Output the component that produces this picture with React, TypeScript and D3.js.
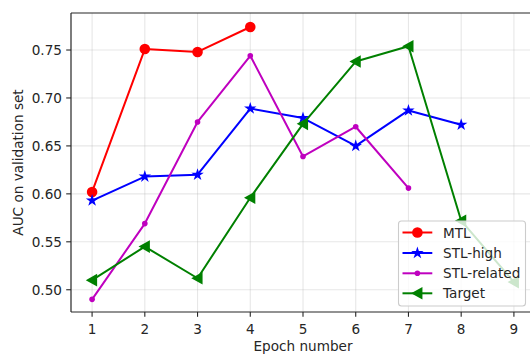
import React from "react";
import * as d3 from "d3";

const epochs = [1, 2, 3, 4, 5, 6, 7, 8, 9];
const mtl = [0.602, 0.751, 0.748, 0.774];
const stlHigh = [0.593, 0.618, 0.620, 0.689, 0.679, 0.650, 0.687, 0.672];
const stlRelated = [0.490, 0.569, 0.675, 0.744, 0.639, 0.670, 0.606];
const target = [0.510, 0.545, 0.512, 0.596, 0.673, 0.738, 0.754, 0.572, 0.508];
const xTicks = [1, 2, 3, 4, 5, 6, 7, 8, 9];
const yTicks = [0.5, 0.55, 0.6, 0.65, 0.7, 0.75];
const seriesNames = ["MTL", "STL-high", "STL-related", "Target"];
const seriesColors = ["#ff0000", "#0000ff", "#bf00bf", "#008000"];
const seriesMarkers = ["circle", "star", "dot", "tri"];

const W = 530, H = 355;
const L = 71, R = 535, T = 13, B = 312;
const FONT = "DejaVu Sans, sans-serif";
const FS = 13.6;

function Marker({ kind, x, y, color }: { kind: string; x: number; y: number; color: string }) {
  if (kind === "circle") return <circle cx={x} cy={y} r={5.3} fill={color} />;
  if (kind === "dot") return <circle cx={x} cy={y} r={2.8} fill={color} />;
  if (kind === "star") {
    const p = d3.symbol().type(d3.symbolStar).size(48)();
    return <path d={p || ""} transform={`translate(${x},${y})`} fill={color} />;
  }
  // left-pointing triangle
  const s = 6.3;
  const d = `M${x - s},${y} L${x + s * 0.8},${y - s} L${x + s * 0.8},${y + s} Z`;
  return <path d={d} fill={color} />;
}

export default function App() {
  const x = d3.scaleLinear().domain([0.6, 9.4]).range([L, R]);
  const y = d3.scaleLinear().domain([0.4768, 0.7886]).range([B, T]);
  const data = [mtl, stlHigh, stlRelated, target];
  const line = d3
    .line<number>()
    .x((_, i) => x(epochs[i]))
    .y((d) => y(d));
  const lx = 398.5, ly = 221, lw = 127, lh = 85;
  const legendY = [232.5, 253, 273.3, 293.3];
  return (
    <svg width={W} height={H} style={{ position: "absolute", left: 0, top: 0, background: "#fff" }}>
      <g>
        {xTicks.map((t) => (
          <line key={"gx" + t} x1={x(t)} x2={x(t)} y1={T} y2={B} stroke="#b0b0b0" strokeOpacity={0.3} strokeWidth={1.1} />
        ))}
        {yTicks.map((t) => (
          <line key={"gy" + t} x1={L} x2={R} y1={y(t)} y2={y(t)} stroke="#b0b0b0" strokeOpacity={0.3} strokeWidth={1.1} />
        ))}
      </g>
      {data.map((vals, si) => (
        <g key={si}>
          <path d={line(vals) || ""} fill="none" stroke={seriesColors[si]} strokeWidth={2} strokeLinejoin="round" />
          {vals.map((v, i) => (
            <Marker key={i} kind={seriesMarkers[si]} x={x(epochs[i])} y={y(v)} color={seriesColors[si]} />
          ))}
        </g>
      ))}
      {/* spines */}
      <line x1={L} x2={L} y1={T} y2={B} stroke="#262626" strokeWidth={1.2} />
      <line x1={L} x2={R} y1={B} y2={B} stroke="#262626" strokeWidth={1.2} />
      <line x1={L} x2={R} y1={T} y2={T} stroke="#262626" strokeWidth={1.2} />
      {xTicks.map((t) => (
        <g key={"xt" + t}>
          <line x1={x(t)} x2={x(t)} y1={B} y2={B + 4.8} stroke="#262626" strokeWidth={1.1} />
          <text x={x(t)} y={B + 22} textAnchor="middle" fontFamily={FONT} fontSize={FS} fill="#262626">
            {t}
          </text>
        </g>
      ))}
      {yTicks.map((t) => (
        <g key={"yt" + t}>
          <line x1={L - 4.8} x2={L} y1={y(t)} y2={y(t)} stroke="#262626" strokeWidth={1.1} />
          <text x={L - 9} y={y(t) + 5} textAnchor="end" fontFamily={FONT} fontSize={FS} fill="#262626">
            {d3.format(".2f")(t)}
          </text>
        </g>
      ))}
      <text x={(L + R) / 2} y={350.5} textAnchor="middle" fontFamily={FONT} fontSize={FS} fill="#262626">
        Epoch number
      </text>
      <text
        transform={`translate(22.7,${(T + B) / 2}) rotate(-90)`}
        textAnchor="middle"
        fontFamily={FONT}
        fontSize={FS}
        fill="#262626"
      >
        AUC on validation set
      </text>
      <g>
        <rect x={lx} y={ly} width={lw} height={lh} rx={3} fill="#fff" fillOpacity={0.8} stroke="#cccccc" strokeWidth={1.1} />
        {seriesNames.map((n, i) => {
          const yy = legendY[i];
          return (
            <g key={n}>
              <line x1={402.5} x2={432.3} y1={yy} y2={yy} stroke={seriesColors[i]} strokeWidth={2} />
              <Marker kind={seriesMarkers[i]} x={417.4} y={yy} color={seriesColors[i]} />
              <text x={443} y={yy + 5} fontFamily={FONT} fontSize={FS} fill="#262626">
                {n}
              </text>
            </g>
          );
        })}
      </g>
    </svg>
  );
}
